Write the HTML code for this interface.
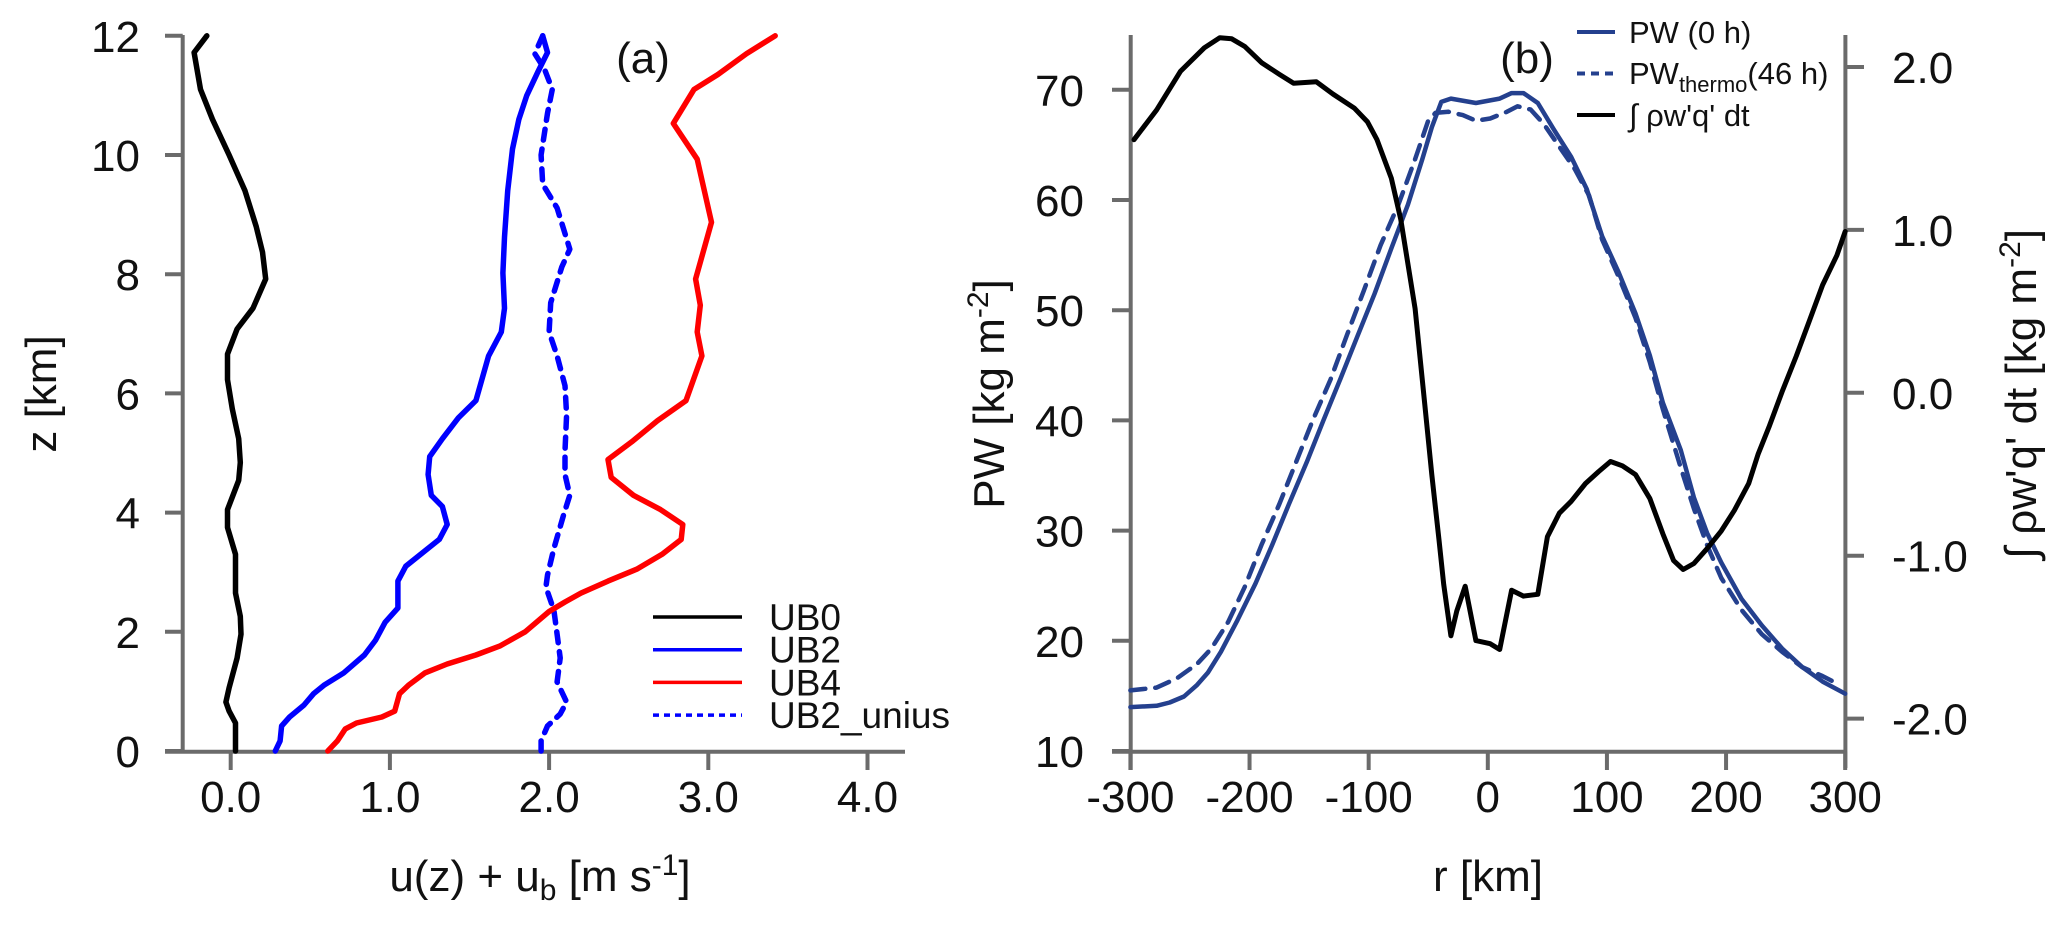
<!DOCTYPE html>
<html><head><meta charset="utf-8"><style>
html,body{margin:0;padding:0;background:#fff;width:2067px;height:930px;overflow:hidden}
svg{display:block;font-family:"Liberation Sans",sans-serif}
</style></head><body>
<svg id="fig" width="2067" height="930" viewBox="0 0 2067 930" xmlns="http://www.w3.org/2000/svg">
<g id="pa"></g>
<g id="pb"></g>
</svg>
<script>
// ---- Panel (a) data: z [km] and u values ----
const zUB0 = [12,11.72,11.1,10.6,10,9.4,8.8,8.37,7.92,7.43,7.08,6.66,6.23,5.74,5.24,4.84,4.54,4.05,3.75,3.3,2.65,2.26,1.96,1.56,1.06,0.82,0.67,0.47,0];
const uUB0 = [-0.15,-0.23,-0.19,-0.115,-0.01,0.09,0.16,0.2,0.22,0.14,0.04,-0.02,-0.02,0.01,0.05,0.06,0.05,-0.02,-0.02,0.03,0.03,0.06,0.065,0.04,-0.01,-0.03,-0.01,0.03,0.03];
const zUB2 = [12,11.72,11.4,11.0,10.6,10.1,9.4,8.62,8.02,7.43,7.03,6.63,5.88,5.59,5.24,4.94,4.64,4.29,4.1,3.8,3.55,3.1,2.85,2.4,2.16,1.86,1.61,1.31,1.11,0.96,0.77,0.57,0.42,0.17,0];
const uUB2 = [1.96,1.99,1.93,1.86,1.81,1.77,1.74,1.72,1.71,1.72,1.70,1.62,1.54,1.43,1.33,1.25,1.24,1.26,1.33,1.36,1.31,1.10,1.05,1.05,0.97,0.91,0.84,0.71,0.59,0.52,0.46,0.37,0.32,0.31,0.28];
const zUN = [12,11.7,11.45,11.1,10.7,10.0,9.51,9.11,8.42,8.12,7.52,7.03,6.63,6.13,5.64,5.04,4.64,4.29,3.95,3.4,2.95,2.75,2.36,1.96,1.56,1.16,0.82,0.62,0.42,0.17,0];
const uUN = [1.96,1.91,1.97,2.02,1.99,1.95,1.96,2.05,2.13,2.08,2.01,2.0,2.05,2.10,2.11,2.10,2.10,2.13,2.09,2.03,1.99,1.98,2.03,2.05,2.07,2.05,2.11,2.07,1.99,1.95,1.95];
const zUB4 = [12,11.7,11.35,11.1,10.53,9.93,8.87,7.92,7.48,7.03,6.63,5.88,5.54,5.19,4.89,4.59,4.29,4.05,3.8,3.55,3.3,3.05,2.85,2.65,2.5,2.34,2.0,1.76,1.61,1.46,1.31,1.11,0.96,0.67,0.57,0.47,0.37,0.17,0];
const uUB4 = [3.42,3.24,3.06,2.91,2.78,2.93,3.02,2.92,2.95,2.93,2.96,2.86,2.68,2.52,2.37,2.39,2.53,2.70,2.84,2.83,2.71,2.55,2.37,2.20,2.10,2.0,1.85,1.69,1.54,1.36,1.22,1.12,1.06,1.03,0.95,0.79,0.72,0.67,0.61];
const aXTicks = [0,1,2,3,4];
const aXTickLabels = ["0.0","1.0","2.0","3.0","4.0"];
const aYTicks = [0,2,4,6,8,10,12];
const legendA = ["UB0","UB2","UB4","UB2_unius"];

// ---- Panel (b) data ----
const rPW = [-300,-278,-267,-255,-244,-235,-224,-210,-195,-181,-167,-152,-138,-124,-110,-95,-81,-67,-55,-47,-39,-31,-10,10,20,30,42,56,70,83,96,110,124,136,147,162,173,184,196,213,230,247,264,281,300];
const vPW = [13.98,14.1,14.4,14.95,16.0,17.1,19.0,21.9,25.2,28.7,32.4,36.2,40,43.7,47.5,51.5,55.6,59.6,63.7,66.6,68.9,69.2,68.8,69.2,69.7,69.7,68.8,66.3,63.9,61,56.7,53.4,49.7,45.9,41.6,37.3,33,29.8,27.1,23.8,21.4,19.3,17.6,16.3,15.2];
const rTH = [-300,-278,-261,-244,-232,-218,-204,-190,-175,-161,-147,-132,-118,-104,-90,-75,-61,-50,-44,-33,-21,-10,2,16,25,36,47,59,73,85,96,110,124,136,147,162,173,184,196,213,230,247,264,281,290];
const vTH = [15.5,15.75,16.6,17.9,19.3,21.7,24.9,28.7,32.4,36.2,40.0,43.7,47.8,51.8,55.9,59.6,63.7,67.2,67.9,68.0,67.7,67.2,67.4,68.0,68.5,68.2,66.9,65.0,62.8,60.4,56.4,53.0,49.3,45.3,41.0,35.7,32.0,28.7,25.7,22.8,20.6,19.0,17.6,16.8,16.3];
const rFX = [-297,-278,-258,-238,-225,-215,-204,-190,-175,-163,-144,-130,-112,-101,-93,-81,-73,-61,-53,-47,-41,-37,-31,-26,-19,-10,2,10,20,30,42,50,60,70,82,93,103,113,124,136,147,156,164,173,184,196,207,219,227,236,247,259,270,281,293,300];
const vFX = [1.554,1.736,1.973,2.118,2.18,2.173,2.126,2.027,1.955,1.9,1.91,1.834,1.747,1.663,1.554,1.318,1.063,0.517,-0.066,-0.502,-0.903,-1.176,-1.492,-1.339,-1.187,-1.521,-1.54,-1.576,-1.212,-1.248,-1.237,-0.884,-0.739,-0.666,-0.557,-0.484,-0.422,-0.448,-0.502,-0.648,-0.866,-1.03,-1.085,-1.048,-0.957,-0.848,-0.721,-0.557,-0.375,-0.211,0.007,0.226,0.444,0.662,0.844,0.99];
const bXTicks = [-300,-200,-100,0,100,200,300];
const bYTicks = [10,20,30,40,50,60,70];
const bY2Ticks = [-2,-1,0,1,2];
const bY2TickLabels = ["-2.0","-1.0","0.0","1.0","2.0"];

const NS="http://www.w3.org/2000/svg";
function mk(parent,tag,attrs,text){const e=document.createElementNS(NS,tag);for(const k in attrs)e.setAttribute(k,attrs[k]);if(text!==undefined)e.textContent=text;parent.appendChild(e);return e;}
const AX="#6b6b6b";
const FS=44;
const ax=u=>230.7+u*159.2, ay=z=>751-z*59.6;
const bx=r=>1487.8+r*1.1913, by=v=>751-(v-10)*11.02, by2=v=>392.8-v*162.9;

const pa=document.getElementById('pa'), pb=document.getElementById('pb');
function poly(g,xs,ys,fx,fy,stroke,dash,name,w){
  const pts=xs.map((x,i)=>fx(x).toFixed(1)+','+fy(ys[i]).toFixed(1)).join(' ');
  const p=mk(g,'polyline',{points:pts,fill:'none',stroke:stroke,'stroke-width':w||5.5,'stroke-linejoin':'round','stroke-linecap':'round'});
  if(dash)p.setAttribute('stroke-dasharray',dash);
  
  
}
let e;
e=mk(pa,'line',{x1:182.7,y1:35,x2:182.7,y2:751.7,stroke:AX,'stroke-width':4});

e=mk(pa,'line',{x1:165,y1:751.7,x2:905,y2:751.7,stroke:AX,'stroke-width':4});

aYTicks.forEach(t=>{
  e=mk(pa,'line',{x1:165,y1:ay(t),x2:182.7,y2:ay(t),stroke:AX,'stroke-width':4});
  
  e=mk(pa,'text',{x:140,y:ay(t)+16,'font-size':FS,'text-anchor':'end',fill:'#111'},String(t));
  
});
aXTicks.forEach((t,i)=>{
  e=mk(pa,'line',{x1:ax(t),y1:751.7,x2:ax(t),y2:770,stroke:AX,'stroke-width':4});
  
  e=mk(pa,'text',{x:ax(t),y:812,'font-size':FS,'text-anchor':'middle',fill:'#111'},aXTickLabels[i]);
  
});
e=mk(pa,'text',{x:0,y:0,'font-size':FS,'text-anchor':'middle',fill:'#111',transform:'translate(56,394) rotate(-90)'},'z [km]');

e=mk(pa,'text',{x:540,y:891,'font-size':FS,'text-anchor':'middle',fill:'#111'});
e.innerHTML='u(z) + u<tspan font-size="30" dy="9">b</tspan><tspan dy="-9"> [m s</tspan><tspan font-size="30" dy="-16">-1</tspan><tspan dy="16">]</tspan>';

e=mk(pa,'text',{x:643,y:73,'font-size':FS,'text-anchor':'middle',fill:'#111'},'(a)');

poly(pa,uUB0,zUB0,ax,ay,'#000',null,'ub0-line');
poly(pa,uUB2,zUB2,ax,ay,'#0000ff',null,'ub2-line');
poly(pa,uUN,zUN,ax,ay,'#0000ff','11 9','ub2-unius-line');
poly(pa,uUB4,zUB4,ax,ay,'#ff0000',null,'ub4-line');
const legCol=['#000','#0000ff','#ff0000','#0000ff'];
legendA.forEach((s,i)=>{
  const y=617+i*32.7;
  e=mk(pa,'line',{x1:653,y1:y,x2:742,y2:y,stroke:legCol[i],'stroke-width':3.5});
  if(i===3)e.setAttribute('stroke-dasharray','6 5');
  
  e=mk(pa,'text',{x:769,y:y+13,'font-size':37,fill:'#111'},s);
  
});
e=mk(pb,'line',{x1:1130.7,y1:35,x2:1130.7,y2:770,stroke:AX,'stroke-width':4});

e=mk(pb,'line',{x1:1845.4,y1:35,x2:1845.4,y2:768,stroke:AX,'stroke-width':4});

e=mk(pb,'line',{x1:1112,y1:751.7,x2:1845.4,y2:751.7,stroke:AX,'stroke-width':4});

bYTicks.forEach(t=>{
  e=mk(pb,'line',{x1:1112,y1:by(t),x2:1130.7,y2:by(t),stroke:AX,'stroke-width':4});
  
  e=mk(pb,'text',{x:1084,y:by(t)+16,'font-size':FS,'text-anchor':'end',fill:'#111'},String(t));
  
});
bY2Ticks.forEach((t,i)=>{
  e=mk(pb,'line',{x1:1845.4,y1:by2(t),x2:1864,y2:by2(t),stroke:AX,'stroke-width':4});
  
  e=mk(pb,'text',{x:1892,y:by2(t)+16,'font-size':FS,fill:'#111'},bY2TickLabels[i]);
  
});
bXTicks.forEach(t=>{
  e=mk(pb,'line',{x1:bx(t),y1:751.7,x2:bx(t),y2:770,stroke:AX,'stroke-width':4});
  
  e=mk(pb,'text',{x:bx(t),y:812,'font-size':FS,'text-anchor':'middle',fill:'#111'},String(t));
  
});
e=mk(pb,'text',{x:1488,y:891,'font-size':FS,'text-anchor':'middle',fill:'#111'},'r [km]');

e=mk(pb,'text',{x:0,y:0,'font-size':FS,'text-anchor':'middle',fill:'#111',transform:'translate(1004,394) rotate(-90)'});
e.innerHTML='PW [kg m<tspan font-size="30" dy="-16">-2</tspan><tspan dy="16">]</tspan>';

e=mk(pb,'text',{x:0,y:0,'font-size':FS,'text-anchor':'middle',fill:'#111',transform:'translate(2036,394) rotate(-90)'});
e.innerHTML='∫ ρw\'q\' dt [kg m<tspan font-size="30" dy="-16">-2</tspan><tspan dy="16">]</tspan>';

e=mk(pb,'text',{x:1527,y:73,'font-size':FS,'text-anchor':'middle',fill:'#111'},'(b)');

poly(pb,rPW,vPW,bx,by,'#24408e',null,'pw-0h-line',4.5);
poly(pb,rTH,vTH,bx,by,'#24408e','15 10','pw-thermo-46h-line',4.5);
poly(pb,rFX,vFX,bx,by2,'#000',null,'flux-integral-line',5);
const lb=[['#24408e',null],['#24408e','11 8'],['#000',null]];
lb.forEach((c,i)=>{
  const y=32+i*41.5;
  e=mk(pb,'line',{x1:1577,y1:y,x2:1615,y2:y,stroke:c[0],'stroke-width':4});
  if(c[1])e.setAttribute('stroke-dasharray','8 6');
  
});
e=mk(pb,'text',{x:1629,y:43,'font-size':31,fill:'#111'},'PW (0 h)');

e=mk(pb,'text',{x:1629,y:84,'font-size':31,fill:'#111'});
e.innerHTML='PW<tspan font-size="22" dy="8">thermo</tspan><tspan dy="-8">(46 h)</tspan>';

e=mk(pb,'text',{x:1629,y:126,'font-size':31,fill:'#111'},"∫ ρw'q' dt");

</script>
</body></html>
